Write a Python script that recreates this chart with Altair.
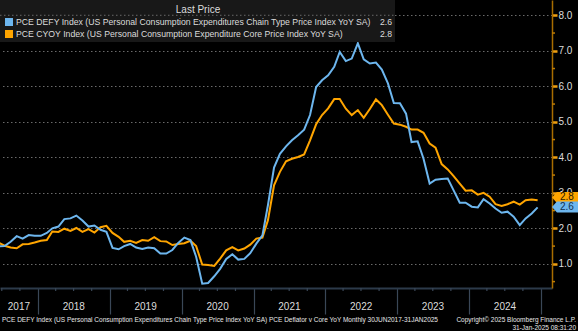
import altair as alt
import pandas as pd

# ---------------- data ----------------
start_month = "2017-06-01"
n_months = 91  # Jun 2017 .. Dec 2024

pce_defy = [
    1.49, 1.50, 1.62, 1.78, 1.71, 1.81, 1.79,                    # Jun-Dec 2017
    1.79, 1.87, 2.00, 2.05, 2.26, 2.28, 2.36, 2.22, 2.05, 2.08, 1.96, 1.90,  # 2018
    1.45, 1.41, 1.50, 1.56, 1.46, 1.42, 1.46, 1.44, 1.29, 1.29, 1.39, 1.59,  # 2019
    1.74, 1.67, 1.20, 0.44, 0.46, 0.65, 0.86, 1.14, 1.27, 1.12, 1.14, 1.30,  # 2020
    1.57, 1.80, 2.65, 3.71, 4.10, 4.31, 4.48, 4.62, 4.78, 5.19, 5.98, 6.17,  # 2021
    6.31, 6.55, 6.97, 6.71, 6.78, 7.21, 6.76, 6.64, 6.67, 6.47, 6.08, 5.53,  # 2022
    5.52, 5.23, 4.43, 4.45, 3.96, 3.26, 3.37, 3.39, 3.40, 3.07, 2.72, 2.72,  # 2023
    2.61, 2.59, 2.82, 2.70, 2.56, 2.44, 2.47, 2.33, 2.09, 2.28, 2.42, 2.59,  # 2024
]
pce_cyoy = [
    1.60, 1.51, 1.46, 1.44, 1.55, 1.56, 1.60,
    1.65, 1.67, 1.91, 1.90, 1.99, 1.93, 2.01, 1.90, 1.98, 1.88, 2.03, 2.07,
    1.87, 1.76, 1.62, 1.65, 1.59, 1.67, 1.65, 1.75, 1.64, 1.63, 1.53, 1.56,
    1.58, 1.65, 1.50, 0.98, 0.97, 0.94, 1.15, 1.38, 1.47, 1.38, 1.43, 1.54,
    1.71, 1.74, 2.23, 3.21, 3.59, 3.89, 3.96, 4.01, 4.08, 4.48, 4.93, 5.19,
    5.38, 5.64, 5.64, 5.37, 5.19, 5.33, 5.11, 5.36, 5.63, 5.47, 5.20, 4.95,
    4.92, 4.86, 4.78, 4.78, 4.69, 4.39, 4.27, 3.81, 3.66, 3.47, 3.26, 3.06,
    3.07, 2.95, 3.00, 2.89, 2.68, 2.63, 2.68, 2.75, 2.67, 2.79, 2.81, 2.79,
]

series_names = ["PCE CYOY", "PCE DEFY"]
legend_labels = [
    "PCE DEFY Index (US Personal Consumption Expenditures Chain Type Price Index YoY SA)",
    "PCE CYOY Index (US Personal Consumption Expenditure Core Price Index YoY SA)",
]
last_values = ["2.6", "2.8"]
last_numeric = [2.6, 2.8]

y_ticks = [1, 2, 3, 4, 5, 6, 7, 8]
y_minor = [0.5, 1.5, 2.5, 3.5, 4.5, 5.5, 6.5, 7.5]
years = [2017, 2018, 2019, 2020, 2021, 2022, 2023, 2024]
year_label_dates = ["2017-09-26", "2018-07-02", "2019-07-02", "2020-07-02",
                    "2021-07-02", "2022-07-02", "2023-07-02", "2024-07-02"]
year_starts = [2018, 2019, 2020, 2021, 2022, 2023, 2024, 2025]

footer_left = ("PCE DEFY Index (US Personal Consumption Expenditures Chain Type Price Index YoY SA) "
               "PCE Deflator v Core YoY  Monthly 30JUN2017-31JAN2025")
footer_right_1 = "Copyright\u00a9 2025 Bloomberg Finance L.P."
footer_right_2 = "31-Jan-2025 08:31:20"

# ---------------- styling ----------------
BLUE = "#6db6ee"
ORANGE = "#ffa500"
FONT = "Liberation Sans"
TXT = "#dcdcdc"
W, H = 552, 288

dates = (pd.date_range(start_month, periods=n_months, freq="MS") + pd.Timedelta(days=14)).strftime("%Y-%m-%d")
df = pd.concat([
    pd.DataFrame({"date": dates, "value": pce_cyoy, "series": "PCE CYOY"}),
    pd.DataFrame({"date": dates, "value": pce_defy, "series": "PCE DEFY"}),
])

x_scale = alt.Scale(domain=[alt.DateTime(year=2017, month=6, date=22),
                            alt.DateTime(year=2025, month=2, date=26)], nice=False)
y_scale = alt.Scale(domain=[0.32, 8.43], nice=False, zero=False)

x_axis = alt.Axis(values=[alt.DateTime(year=y, month=1, date=1) for y in year_starts],
                  labels=False, tickSize=26, tickColor="#3a4757", tickWidth=1.2,
                  domainColor="#2c3a4a", domainWidth=2, grid=False, orient="bottom", title=None)
y_axis = alt.Axis(orient="right", values=y_ticks, format=".1f", grid=True,
                  gridColor="#6a6a6a", gridDash=[1.5, 2.5], gridWidth=1,
                  domainColor="#a86d00", domainWidth=1.5,
                  tickColor="#f0a010", tickSize=5, tickWidth=2.5,
                  labelColor=TXT, labelFont=FONT, labelFontSize=10,
                  labelPadding=1, title=None)


def X(field):
    return alt.X(field, scale=x_scale, axis=x_axis)


def Y(field):
    return alt.Y(field, scale=y_scale, axis=y_axis)


one = alt.Data(values=[{"a": 1}])

lines = alt.Chart(df).mark_line(strokeWidth=2, clip=True).encode(
    x=X("date:T"),
    y=Y("value:Q"),
    color=alt.Color("series:N", scale=alt.Scale(domain=series_names, range=[ORANGE, BLUE]), legend=None),
    order=alt.Order("series:N", sort="ascending"),
)

# quarterly minor ticks on the time axis
qdates = [f"{y}-{m:02d}-01" for y in range(2017, 2025) for m in (4, 7, 10)
          if not (y == 2017 and m == 4)]
qticks = alt.Chart(pd.DataFrame({"q": qdates})).mark_rule(color="#3a4757", strokeWidth=1.2).encode(
    x=X("q:T"), y=alt.value(H), y2=alt.value(H + 3))

# minor ticks on the value axis
yminor = alt.Chart(pd.DataFrame({"v": y_minor})).mark_rule(color="#c07c00", strokeWidth=1.5).encode(
    y=Y("v:Q"), x=alt.value(W), x2=alt.value(W + 3))

year_df = pd.DataFrame({"year": [str(y) for y in years], "d": year_label_dates})
year_text = alt.Chart(year_df).mark_text(font=FONT, fontSize=10, color=TXT, baseline="middle").encode(
    x=X("d:T"), y=alt.value(307), text="year:N")

# legend box
box = alt.Chart(one).mark_rect(color="#181818").encode(
    x=alt.value(0), x2=alt.value(395), y=alt.value(0), y2=alt.value(42))
box_grid = alt.Chart(pd.DataFrame({"v": [8]})).mark_rule(color="#6a6a6a", strokeDash=[1.5, 2.5]).encode(
    y=Y("v:Q"), x=alt.value(0), x2=alt.value(395))
head = alt.Chart(one).mark_text(text="Last Price", font=FONT, fontSize=10, color=TXT).encode(
    x=alt.value(198), y=alt.value(10))
sq1 = alt.Chart(one).mark_rect(color=BLUE).encode(
    x=alt.value(5), x2=alt.value(13), y=alt.value(18), y2=alt.value(26))
sq2 = alt.Chart(one).mark_rect(color=ORANGE).encode(
    x=alt.value(5), x2=alt.value(13), y=alt.value(30), y2=alt.value(38))
LF = 8.7
leg1 = alt.Chart(one).mark_text(text=legend_labels[0], font=FONT, fontSize=LF, color=TXT,
                                align="left", baseline="middle").encode(x=alt.value(16), y=alt.value(22))
leg2 = alt.Chart(one).mark_text(text=legend_labels[1], font=FONT, fontSize=LF, color=TXT,
                                align="left", baseline="middle").encode(x=alt.value(16), y=alt.value(34))
val1 = alt.Chart(one).mark_text(text=last_values[0], font=FONT, fontSize=LF, color=TXT,
                                align="right", baseline="middle").encode(x=alt.value(392), y=alt.value(22))
val2 = alt.Chart(one).mark_text(text=last_values[1], font=FONT, fontSize=LF, color=TXT,
                                align="right", baseline="middle").encode(x=alt.value(392), y=alt.value(34))

# last-value tags on the right axis
TAG = "M-1,0 L-0.62,-0.42 L1,-0.42 L1,0.42 L-0.62,0.42 Z"
tag_o = alt.Chart(pd.DataFrame({"v": [last_numeric[1]], "t": [last_values[1]]}))
tag_o_shape = tag_o.mark_point(shape=TAG, filled=True, size=676, opacity=1, color=ORANGE, yOffset=-2.5).encode(
    x=alt.value(W + 13), y=Y("v:Q"))
tag_o_text = tag_o.mark_text(font=FONT, fontSize=10, color="#2a1a00", yOffset=-2.5, align="left",
                             baseline="middle").encode(x=alt.value(W + 8), y=Y("v:Q"), text="t:N")
tag_b = alt.Chart(pd.DataFrame({"v": [last_numeric[0]], "t": [last_values[0]]}))
tag_b_shape = tag_b.mark_point(shape=TAG, filled=True, size=676, opacity=1, color=BLUE).encode(
    x=alt.value(W + 13), y=Y("v:Q"))
tag_b_text = tag_b.mark_text(font=FONT, fontSize=10, color="#12304f", align="left",
                             baseline="middle").encode(x=alt.value(W + 8), y=Y("v:Q"), text="t:N")

foot1 = alt.Chart(one).mark_text(text=footer_left, font=FONT, fontSize=6.5, color="#e8e8e8",
                                 align="left", baseline="middle").encode(x=alt.value(2), y=alt.value(320))
foot2 = alt.Chart(one).mark_text(text=footer_right_1, font=FONT, fontSize=6.5, color="#e8e8e8",
                                 align="right", baseline="middle").encode(x=alt.value(576), y=alt.value(320))
foot3 = alt.Chart(one).mark_text(text=footer_right_2, font=FONT, fontSize=6.5, color="#e8e8e8",
                                 align="right", baseline="middle").encode(x=alt.value(576), y=alt.value(328))

chart = alt.layer(
    lines, qticks, yminor, year_text, box, box_grid, head, sq1, sq2, leg1, leg2, val1, val2,
    tag_o_shape, tag_o_text, tag_b_shape, tag_b_text, foot1, foot2, foot3,
).properties(
    width=W, height=H, background="#000000",
    padding={"left": 0, "top": 0, "right": 26, "bottom": 43},
    autosize=alt.AutoSizeParams(type="none"),
).configure_view(stroke=None)

chart.save("out.html", embed_options={"renderer": "svg", "actions": False})
